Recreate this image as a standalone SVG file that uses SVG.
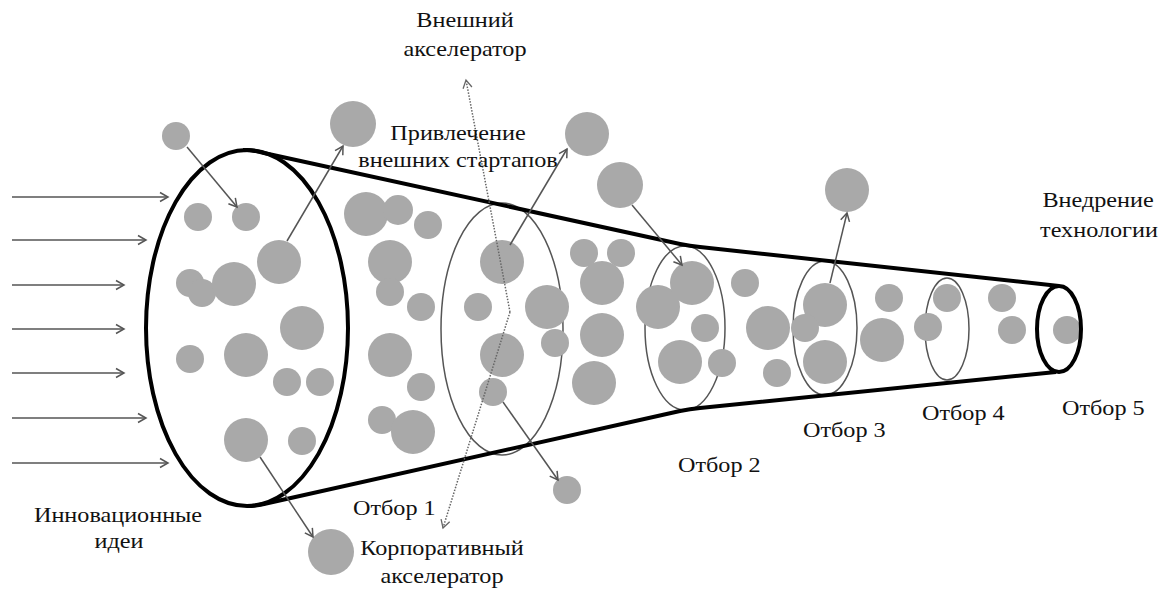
<svg xmlns="http://www.w3.org/2000/svg" width="1170" height="590" viewBox="0 0 1170 590">
<style>
.bg{fill:#fff}
.idea{fill:#a9a9a9}
.outline{fill:none;stroke:#000;stroke-width:4;stroke-linejoin:round}
.sel{fill:none;stroke:#555;stroke-width:1.5}
.arr{fill:none;stroke:#555;stroke-width:1.5;marker-end:url(#ah)}
.dot{fill:none;stroke:#666;stroke-width:1.5;stroke-dasharray:1.5 1.5;marker-end:url(#ahd)}
.lbl{font-family:"Liberation Serif","Times New Roman",serif;font-size:22px;fill:#111}
.c{text-anchor:middle}
</style>
<defs>
<marker id="ah" markerUnits="userSpaceOnUse" markerWidth="12" markerHeight="12" refX="9" refY="5" orient="auto" viewBox="0 0 12 10">
<path d="M1,0.5 L9,5 L1,9.5" fill="none" stroke="#555" stroke-width="1.5"/>
</marker>
<marker id="ahd" markerUnits="userSpaceOnUse" markerWidth="12" markerHeight="12" refX="9" refY="5" orient="auto" viewBox="0 0 12 10">
<path d="M1,0.5 L9,5 L1,9.5" fill="none" stroke="#666" stroke-width="1.3"/>
</marker>
</defs>
<rect class="bg" x="0" y="0" width="1170" height="590"/>

<g id="selections">
<ellipse id="sel1" class="sel" cx="502" cy="329" rx="61" ry="126"/>
<ellipse id="sel2" class="sel" cx="685" cy="328" rx="40" ry="82"/>
<ellipse id="sel3" class="sel" cx="825" cy="328" rx="32" ry="67"/>
<ellipse id="sel4" class="sel" cx="947" cy="329" rx="22" ry="51"/>
</g>

<g id="ideas">
<circle class="idea" cx="176" cy="136" r="14"/>
<circle class="idea" cx="353" cy="124" r="23"/>
<circle class="idea" cx="198" cy="217" r="14"/>
<circle class="idea" cx="246" cy="217" r="14"/>
<circle class="idea" cx="279" cy="262" r="22"/>
<circle class="idea" cx="190" cy="283" r="14"/>
<circle class="idea" cx="202" cy="293" r="14"/>
<circle class="idea" cx="234" cy="284" r="22"/>
<circle class="idea" cx="302" cy="328" r="22"/>
<circle class="idea" cx="190" cy="359" r="14"/>
<circle class="idea" cx="246" cy="355" r="22"/>
<circle class="idea" cx="287" cy="382" r="14"/>
<circle class="idea" cx="320" cy="382" r="14"/>
<circle class="idea" cx="246" cy="440" r="22"/>
<circle class="idea" cx="302" cy="441" r="14"/>
<circle class="idea" cx="331" cy="552" r="23"/>

<circle class="idea" cx="366" cy="214" r="22"/>
<circle class="idea" cx="398" cy="210" r="15"/>
<circle class="idea" cx="428" cy="225" r="14"/>
<circle class="idea" cx="390" cy="262" r="22"/>
<circle class="idea" cx="390" cy="292" r="14"/>
<circle class="idea" cx="421" cy="307" r="14"/>
<circle class="idea" cx="390" cy="355" r="22"/>
<circle class="idea" cx="421" cy="387" r="14"/>
<circle class="idea" cx="382" cy="420" r="14"/>
<circle class="idea" cx="413" cy="432" r="22"/>

<circle class="idea" cx="502" cy="262" r="22"/>
<circle class="idea" cx="478" cy="307" r="14"/>
<circle class="idea" cx="502" cy="355" r="22"/>
<circle class="idea" cx="493" cy="392" r="14"/>
<circle class="idea" cx="547" cy="307" r="22"/>
<circle class="idea" cx="555" cy="343" r="14"/>
<circle class="idea" cx="567" cy="490" r="14"/>
<circle class="idea" cx="587" cy="134" r="22"/>
<circle class="idea" cx="620" cy="185" r="23"/>

<circle class="idea" cx="584" cy="253" r="14"/>
<circle class="idea" cx="621" cy="253" r="14"/>
<circle class="idea" cx="602" cy="283" r="22"/>
<circle class="idea" cx="602" cy="335" r="22"/>
<circle class="idea" cx="594" cy="383" r="22"/>

<circle class="idea" cx="658" cy="307" r="22"/>
<circle class="idea" cx="692" cy="283" r="22"/>
<circle class="idea" cx="705" cy="328" r="14"/>
<circle class="idea" cx="680" cy="362" r="22"/>
<circle class="idea" cx="722" cy="363" r="14"/>

<circle class="idea" cx="745" cy="283" r="14"/>
<circle class="idea" cx="768" cy="328" r="22"/>
<circle class="idea" cx="777" cy="373" r="14"/>

<circle class="idea" cx="847" cy="190" r="22"/>
<circle class="idea" cx="825" cy="305" r="22"/>
<circle class="idea" cx="805" cy="328" r="14"/>
<circle class="idea" cx="825" cy="362" r="22"/>

<circle class="idea" cx="889" cy="298" r="14"/>
<circle class="idea" cx="882" cy="340" r="22"/>
<circle class="idea" cx="947" cy="298" r="14"/>
<circle class="idea" cx="928" cy="327" r="14"/>
<circle class="idea" cx="1002" cy="298" r="14"/>
<circle class="idea" cx="1012" cy="330" r="14"/>
<circle class="idea" cx="1067" cy="330" r="14"/>
</g>

<g id="funnel">
<ellipse id="entry" class="outline" cx="247" cy="328" rx="101" ry="178"/>
<path class="outline" d="M243,150 Q254,150 264,153 L680,244 Q690,246 700,247 L1059,286"/>
<path class="outline" d="M247,506 Q256,506 264,504 L680,411 Q690,409 700,408 L1056,372"/>
<ellipse id="exit" class="outline" cx="1059" cy="329" rx="22" ry="43"/>
</g>

<g id="connectors">
<line class="arr" x1="12" y1="197" x2="168" y2="197"/>
<line class="arr" x1="12" y1="240" x2="146" y2="240"/>
<line class="arr" x1="12" y1="285" x2="124" y2="285"/>
<line class="arr" x1="12" y1="329" x2="124" y2="329"/>
<line class="arr" x1="12" y1="373" x2="124" y2="373"/>
<line class="arr" x1="12" y1="418" x2="146" y2="418"/>
<line class="arr" x1="12" y1="463" x2="168" y2="463"/>
<line class="arr" x1="187" y1="147" x2="237" y2="207"/>
<line class="arr" x1="287" y1="241" x2="343" y2="146"/>
<line class="arr" x1="260" y1="457" x2="313" y2="537"/>
<line class="arr" x1="510" y1="245" x2="567" y2="149"/>
<line class="arr" x1="503" y1="402" x2="558" y2="480"/>
<line class="arr" x1="632" y1="205" x2="682" y2="265"/>
<line class="arr" x1="830" y1="283" x2="847" y2="213"/>
<path class="dot" d="M510,312 L466,80"/>
<path class="dot" d="M510,312 L443,528"/>
</g>

<g id="labels">
<g id="lbl-ext-acc"><text class="lbl c" transform="translate(465,27) scale(1.1,1)">Внешний</text><text class="lbl c" transform="translate(465,56) scale(1.1,1)">акселератор</text></g>
<g id="lbl-attract"><text class="lbl c" transform="translate(458,140) scale(1.1,1)">Привлечение</text><text class="lbl c" transform="translate(458,167) scale(1.1,1)">внешних стартапов</text></g>
<g id="lbl-ideas"><text class="lbl c" transform="translate(118,522) scale(1.1,1)">Инновационные</text><text class="lbl c" transform="translate(119,548) scale(1.1,1)">идеи</text></g>
<g id="lbl-corp-acc"><text class="lbl c" transform="translate(442,555) scale(1.1,1)">Корпоративный</text><text class="lbl c" transform="translate(442,583) scale(1.1,1)">акселератор</text></g>
<g id="lbl-impl"><text class="lbl c" transform="translate(1098,207) scale(1.1,1)">Внедрение</text><text class="lbl c" transform="translate(1099,237) scale(1.1,1)">технологии</text></g>
<text id="lbl-s1" class="lbl" transform="translate(353,515) scale(1.1,1)">Отбор 1</text>
<text id="lbl-s2" class="lbl" transform="translate(678,472) scale(1.1,1)">Отбор 2</text>
<text id="lbl-s3" class="lbl" transform="translate(803,437) scale(1.1,1)">Отбор 3</text>
<text id="lbl-s4" class="lbl" transform="translate(922,420) scale(1.1,1)">Отбор 4</text>
<text id="lbl-s5" class="lbl" transform="translate(1062,415) scale(1.1,1)">Отбор 5</text>
</g>
</svg>
